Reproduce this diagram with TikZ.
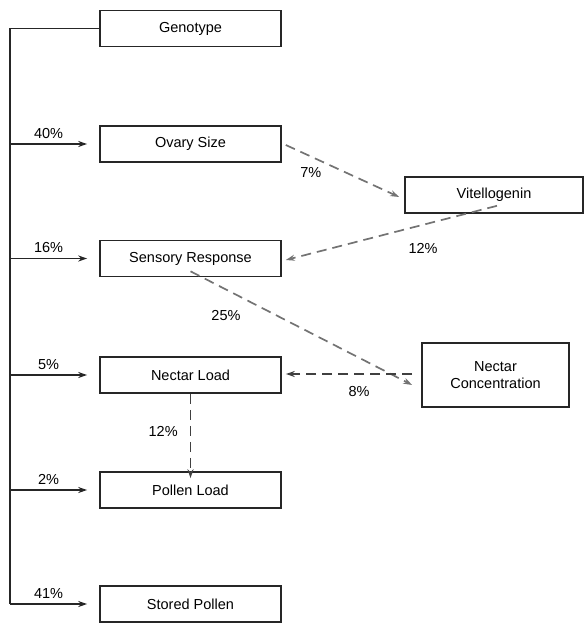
\documentclass[tikz,border=0pt]{standalone}
\usepackage{fontspec}
\setmainfont{Liberation Sans}
\usetikzlibrary{arrows.meta}
\begin{document}
\begin{tikzpicture}[x=1pt,y=-1pt,
  box/.style={draw=black!85,line width=1.6pt,minimum height=36pt,inner sep=0pt,font=\fontsize{14.5}{17}\selectfont,align=center},
  lbl/.style={font=\fontsize{14.5}{17}\selectfont,inner sep=0pt},
  solidarr/.style={line width=1.4pt,draw=black!85,-{Stealth[length=9pt,width=6pt]}},
  dasharr/.style={line width=1.7pt,draw=black!55,dash pattern=on 10pt off 6pt,-{Stealth[length=9pt,width=6pt,fill=black!60]}}
]
\useasboundingbox (0,0) rectangle (585,623);
\node[box,minimum width=181pt] (geno) at (190.5,28.5) {Genotype};
\node[box,minimum width=181pt] (ovary) at (190.5,144) {Ovary Size};
\node[box,minimum width=181pt] (sens) at (190.5,258.5) {Sensory Response};
\node[box,minimum width=181pt] (nload) at (190.5,375) {Nectar Load};
\node[box,minimum width=181pt] (pload) at (190.5,490) {Pollen Load};
\node[box,minimum width=181pt] (stored) at (190.5,604) {Stored Pollen};
\node[box,minimum width=178pt] (vit) at (494,195) {Vitellogenin};
\node[box,minimum width=147pt,minimum height=64pt] (nconc) at (495.5,375) {Nectar\\Concentration};
% trunk
\coordinate (top) at (10,28.5);
\coordinate (bot) at (10,604);
\draw[line width=1.4pt,draw=black!85] (geno.west) -- (top) -- (bot);
\foreach \n/\p in {ovary/40\%,sens/16\%,nload/5\%,pload/2\%,stored/41\%}{
  \draw[solidarr] (top |- \n.west) -- ([xshift=-12pt]\n.west) node[lbl,pos=0.5,above=5pt] {\p};
}
% dashed arrows
\draw[dasharr] ([xshift=4pt,yshift=-1pt]ovary.east) -- ([xshift=-5pt,yshift=-2pt]vit.west) node[lbl,pos=0.22,below=10pt] {7\%};
\draw[dasharr] ([xshift=3pt,yshift=8pt]vit.south) -- ([xshift=4pt,yshift=-1.5pt]sens.east) node[lbl,pos=0.35,below=18pt] {12\%};
\draw[dasharr] ([yshift=6pt]sens.south) -- ([xshift=-9pt,yshift=-10pt]nconc.west) node[lbl,pos=0.16,below=20pt] {25\%};
\draw[dasharr,draw=black!75] ([xshift=-9pt,yshift=1pt]nconc.west) -- ([xshift=4pt,yshift=1pt]nload.east) node[lbl,pos=0.42,below=12pt] {8\%};
\draw[dasharr,draw=black!75] (nload.south) -- ([yshift=-7pt]pload.north) node[lbl,pos=0.45,left=12pt] {12\%};
\end{tikzpicture}
\end{document}
